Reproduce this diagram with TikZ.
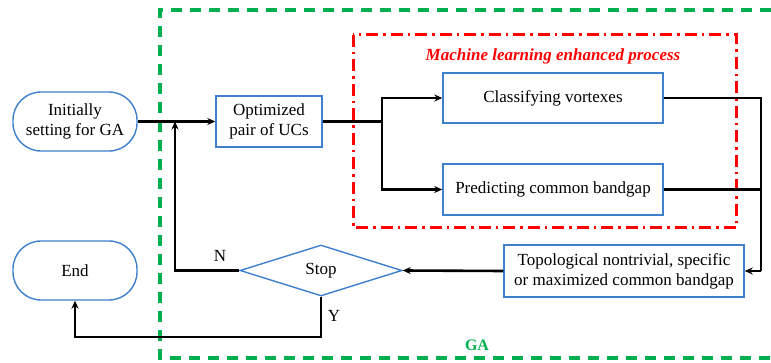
\documentclass[tikz,border=0pt]{standalone}
\usepackage{fontspec}
\setmainfont{Liberation Serif}
\usetikzlibrary{shapes.geometric,arrows.meta}
\definecolor{boxblue}{RGB}{62,128,205}
\definecolor{gagreen}{RGB}{0,176,80}
\definecolor{mlred}{RGB}{255,0,0}
\tikzset{
  x=1pt, y=-1pt,
  every node/.style={font=\fontsize{17}{20}\selectfont, align=center, inner sep=2pt},
  procbox/.style={draw=boxblue, line width=1.4pt, rectangle},
  termbox/.style={draw=boxblue, line width=1.4pt, rectangle, rounded corners=28pt,
                  minimum width=124pt, minimum height=59pt},
  decision/.style={draw=boxblue, line width=1.4pt, diamond, aspect=3.18, inner sep=0pt,
                   minimum width=162pt, minimum height=51pt},
  flow/.style={draw=black, line width=2.6pt},
  arr/.style={flow, -{Stealth[length=8pt,width=7pt]}},
  gaframe/.style={draw=gagreen, line width=3.5pt, dash pattern=on 11pt off 8pt},
  mlframe/.style={draw=mlred, line width=3pt, dash pattern=on 12pt off 5pt on 2.5pt off 5pt},
}
\begin{document}
\begin{tikzpicture}
\useasboundingbox (0,0) rectangle (771,363);
\fill[white] (0,0) rectangle (771,363);

% GA region (open to the right edge)
\begin{scope}
  \clip (0,0) rectangle (771,363);
  \draw[gaframe] (790,10) -- (160,10) -- (160,358) -- (790,358);
\end{scope}
\node[text=gagreen, font=\fontsize{16}{18}\selectfont\bfseries] (galabel) at (477,345) {GA};

% machine learning region
\draw[mlframe] (353,35) rectangle (736,228);
\node[text=mlred, font=\fontsize{17}{20}\selectfont\bfseries\itshape] (mllabel) at (553,56)
  {Machine learning enhanced process};

% nodes
\node[termbox] (init) at (75,121.5) {Initially\\setting for GA};
\node[termbox] (end) at (75,270.5) {End};
\node[procbox, minimum width=106pt, minimum height=51pt] (opt) at (269,121.5) {Optimized\\pair of UCs};
\node[procbox, minimum width=220pt, minimum height=50pt] (cls) at (553,98) {Classifying vortexes};
\node[procbox, minimum width=220pt, minimum height=51pt] (pred) at (553,189.5) {Predicting common bandgap};
\node[procbox, minimum width=240pt, minimum height=52pt] (topo) at (624,271)
  {Topological nontrivial, specific\\or maximized common bandgap};
\node[decision] (stop) at (321,270.5) {Stop};

% junctions
\coordinate (fb) at (175,121.5);
\coordinate (split) at (382,121.5);
\coordinate (merge) at (761,271);
\coordinate (ybend) at (75,337);

% connectors
\draw[arr] (init.east) -- (opt.west);
\draw[flow] (opt.east) -- (split);
\draw[arr] (split) |- (cls.west);
\draw[arr] (split) |- (pred.west);
\draw[flow] (cls.east) -| (merge);
\draw[flow] (pred.east) -- (pred.east -| merge);
\draw[arr] (merge) -- (topo.east);
\draw[arr] (topo.west) -- (stop.east);
\draw[arr] (stop.west) -| (fb);
\draw[arr] (stop.south) |- (ybend) -- (end.south);

% branch labels
\node (nlab) at (220,256) {N};
\node (ylab) at (334,316) {Y};
\end{tikzpicture}
\end{document}
